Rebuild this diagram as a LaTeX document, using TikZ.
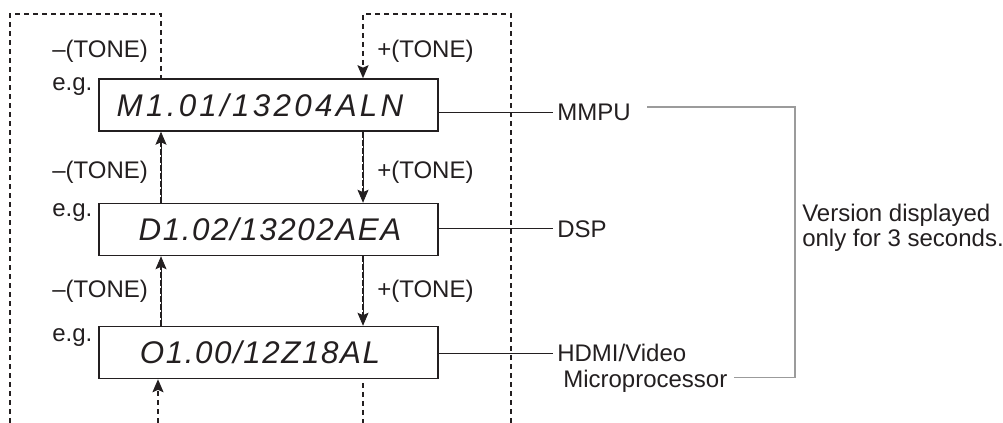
\documentclass[tikz,border=0pt]{standalone}
\usepackage{fontspec}
\setmainfont{Liberation Sans}
\newfontfamily\boxfontM[LetterSpace=10.5]{Liberation Sans}
\newfontfamily\boxfontD[LetterSpace=5]{Liberation Sans}
\usetikzlibrary{arrows.meta}
\definecolor{ink}{HTML}{231F20}
\definecolor{bracketgray}{HTML}{9B9B9B}
\begin{document}
\begin{tikzpicture}[x=0.75pt,y=-0.75pt,
  font=\fontsize{18}{22}\selectfont, text=ink,
  vbox/.style={draw=ink, line width=1.1pt, minimum width=254.25pt, minimum height=39pt, inner sep=0pt},
  boxtext/.style={anchor=base, inner sep=0pt, font=\fontsize{23.5}{27}\selectfont\itshape},
  lbl/.style={anchor=base west, inner sep=0pt},
  rlbl/.style={anchor=base west, inner xsep=3pt, inner ysep=0pt},
  tip/.style={-{Stealth[length=9.75pt, width=8.25pt, inset=1.8pt]}},
  loopline/.style={draw=ink, line width=1.3pt, dash pattern=on 3.75pt off 3pt},
  thinarrow/.style={draw=ink, line width=0.6pt, tip},
  overdash/.style={draw=ink, line width=1.3pt, dash pattern=on 4.5pt off 1.5pt, shorten >=8pt},
  conn/.style={draw=ink, line width=0.75pt},
  bracket/.style={draw=bracketgray, line width=1.1pt}]
\useasboundingbox (0,0) rectangle (1003,423);

% boxes
\node[vbox] (b1) at (268.5,105) {};
\node[vbox] (b2) at (268.5,229.5) {};
\node[vbox] (b3) at (268.5,352.5) {};
\node[boxtext] (t1) at (260,116.3) {\boxfontM M1.01/13204ALN};
\node[boxtext] (t2) at (270,240.8) {\boxfontD D1.02/13202AEA};
\node[boxtext] (t3) at (260,363.8) {\boxfontD O1.00/12Z18AL};

% e.g.
\node[lbl] (eg1) at (52,91) {e.g.};
\node[lbl] (eg2) at (52,217) {e.g.};
\node[lbl] (eg3) at (52,342) {e.g.};

% tone labels
\node[lbl] (m1) at (52,57.6) {–(TONE)};
\node[lbl] (m2) at (52,178.6) {–(TONE)};
\node[lbl] (m3) at (52,297.6) {–(TONE)};
\node[lbl] (p1) at (377,57.6) {+(TONE)};
\node[lbl] (p2) at (377,178.6) {+(TONE)};
\node[lbl] (p3) at (377,297.6) {+(TONE)};

% reference x positions
\coordinate (L) at (161,0);
\coordinate (R) at (363,0);
\coordinate (BL) at (158,0);
\coordinate (lb) at (10,423);
\coordinate (ltl) at (10,14);
\coordinate (ltr) at (161,14);
\coordinate (rb) at (511,423);
\coordinate (rtr) at (511,14);
\coordinate (rtl) at (363,14);
\coordinate (bls) at (158,423);
\coordinate (brs) at (363,383);
\coordinate (bre) at (363,423);

% outer loops
\draw[loopline] (lb) -- (ltl) -- (ltr) -- (b1.north -| L);
\draw[loopline, tip] (rb) -- (rtr) -- (rtl) -- (b1.north -| R);

% inter-box arrows (up, left)
\draw[thinarrow] (b2.north -| L) -- (b1.south -| L);
\draw[overdash] (b2.north -| L) -- (b1.south -| L);
\draw[thinarrow] (b3.north -| L) -- (b2.south -| L);
\draw[overdash] (b3.north -| L) -- (b2.south -| L);
% inter-box arrows (down, right)
\draw[thinarrow] (b1.south -| R) -- (b2.north -| R);
\draw[overdash] (b1.south -| R) -- (b2.north -| R);
\draw[thinarrow] (b2.south -| R) -- (b3.north -| R);
\draw[overdash] (b2.south -| R) -- (b3.north -| R);

% bottom
\draw[loopline, tip] (bls) -- (b3.south -| BL);
\draw[loopline] (brs) -- (bre);

% right labels
\node[rlbl] (mmpu) at (553,120.6) {MMPU};
\node[rlbl] (dsp) at (553,237.1) {DSP};
\node[rlbl] (hdmi) at (553,361.6) {HDMI/Video};
\node[rlbl] (micro) at (559,387.6) {Microprocessor};

\draw[conn] (b1.east |- mmpu.west) -- (mmpu.west);
\draw[conn] (b2.east |- dsp.west) -- (dsp.west);
\draw[conn] (b3.east |- hdmi.west) -- (hdmi.west);

% bracket
\coordinate (bra) at (647,107);
\coordinate (brt) at (795,107);
\coordinate (brb) at (795,377.5);
\coordinate (brc) at (734,377.5);
\draw[bracket] (bra) -- (brt) -- (brb) -- (brc);

\node[lbl] (v1) at (802,221.7) {Version displayed};
\node[lbl] (v2) at (802,246.7) {only for 3 seconds.};
\end{tikzpicture}
\end{document}
